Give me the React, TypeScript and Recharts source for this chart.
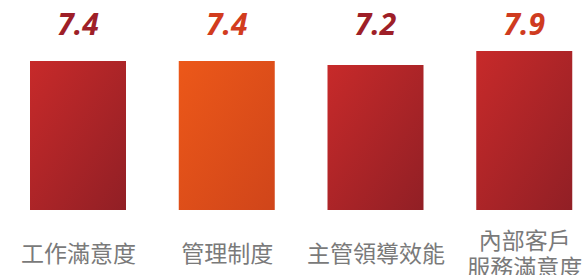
import React from "react";
import { BarChart, Bar, XAxis, YAxis, Cell, LabelList } from "recharts";

const categories = ["工作滿意度", "管理制度", "主管領導效能", "內部客戶\n服務滿意度"];
const scores = [7.4, 7.4, 7.2, 7.9];

const data = categories.map((name, i) => ({ name, score: scores[i] }));

const BAR_FILLS = ["url(#gradRed)", "url(#gradOrange)", "url(#gradRed)", "url(#gradRed)"];
const LABEL_COLORS = ["#9e1f28", "#d23c1e", "#9e1f28", "#cf3b1f"];

function CategoryTick(props: any) {
  const { x, y, payload } = props;
  const lines = String(payload.value).split("\n");
  const lineHeight = 27;
  const startY = y + 38 - ((lines.length - 1) * lineHeight) / 2;
  return (
    <text
      x={x}
      y={startY}
      textAnchor="middle"
      fill="#7a7a7a"
      fontSize={23}
      fontFamily="'Noto Sans CJK TC', 'Noto Sans', sans-serif"
    >
      {lines.map((line, i) => (
        <tspan key={i} x={x} y={startY + i * lineHeight} dominantBaseline="middle">
          {line}
        </tspan>
      ))}
    </text>
  );
}

function ScoreLabel(props: any) {
  const { x, width, value, index } = props;
  return (
    <text
      x={x + width / 2}
      y={35}
      textAnchor="middle"
      fill={LABEL_COLORS[index % LABEL_COLORS.length]}
      fontSize={30}
      fontWeight={700}
      fontStyle="italic"
      fontFamily="'Open Sans', 'Noto Sans', sans-serif"
    >
      {Number(value).toFixed(1)}
    </text>
  );
}

export default function App() {
  return (
    <div
      style={{
        position: "absolute",
        left: 0,
        top: 0,
        width: 584,
        height: 275,
        overflow: "hidden",
        background: "#fff",
      }}
    >
      <BarChart
        width={600}
        height={275}
        data={data}
        margin={{ top: 49, right: 1, bottom: 0, left: 4 }}
        barCategoryGap={0}
      >
        <defs>
          <linearGradient id="gradRed" x1="0" y1="0" x2="1" y2="1">
            <stop offset="0%" stopColor="#c72a2a" />
            <stop offset="100%" stopColor="#911f25" />
          </linearGradient>
          <linearGradient id="gradOrange" x1="0" y1="0" x2="1" y2="1">
            <stop offset="0%" stopColor="#ec5819" />
            <stop offset="100%" stopColor="#d0451a" />
          </linearGradient>
        </defs>
        <XAxis
          dataKey="name"
          axisLine={false}
          tickLine={false}
          height={65}
          interval={0}
          tick={<CategoryTick />}
        />
        <YAxis hide domain={[0, 8]} />
        <Bar dataKey="score" barSize={96} isAnimationActive={false}>
          {data.map((_entry, index) => (
            <Cell key={`cell-${index}`} fill={BAR_FILLS[index % BAR_FILLS.length]} />
          ))}
          <LabelList dataKey="score" content={<ScoreLabel />} />
        </Bar>
      </BarChart>
    </div>
  );
}
